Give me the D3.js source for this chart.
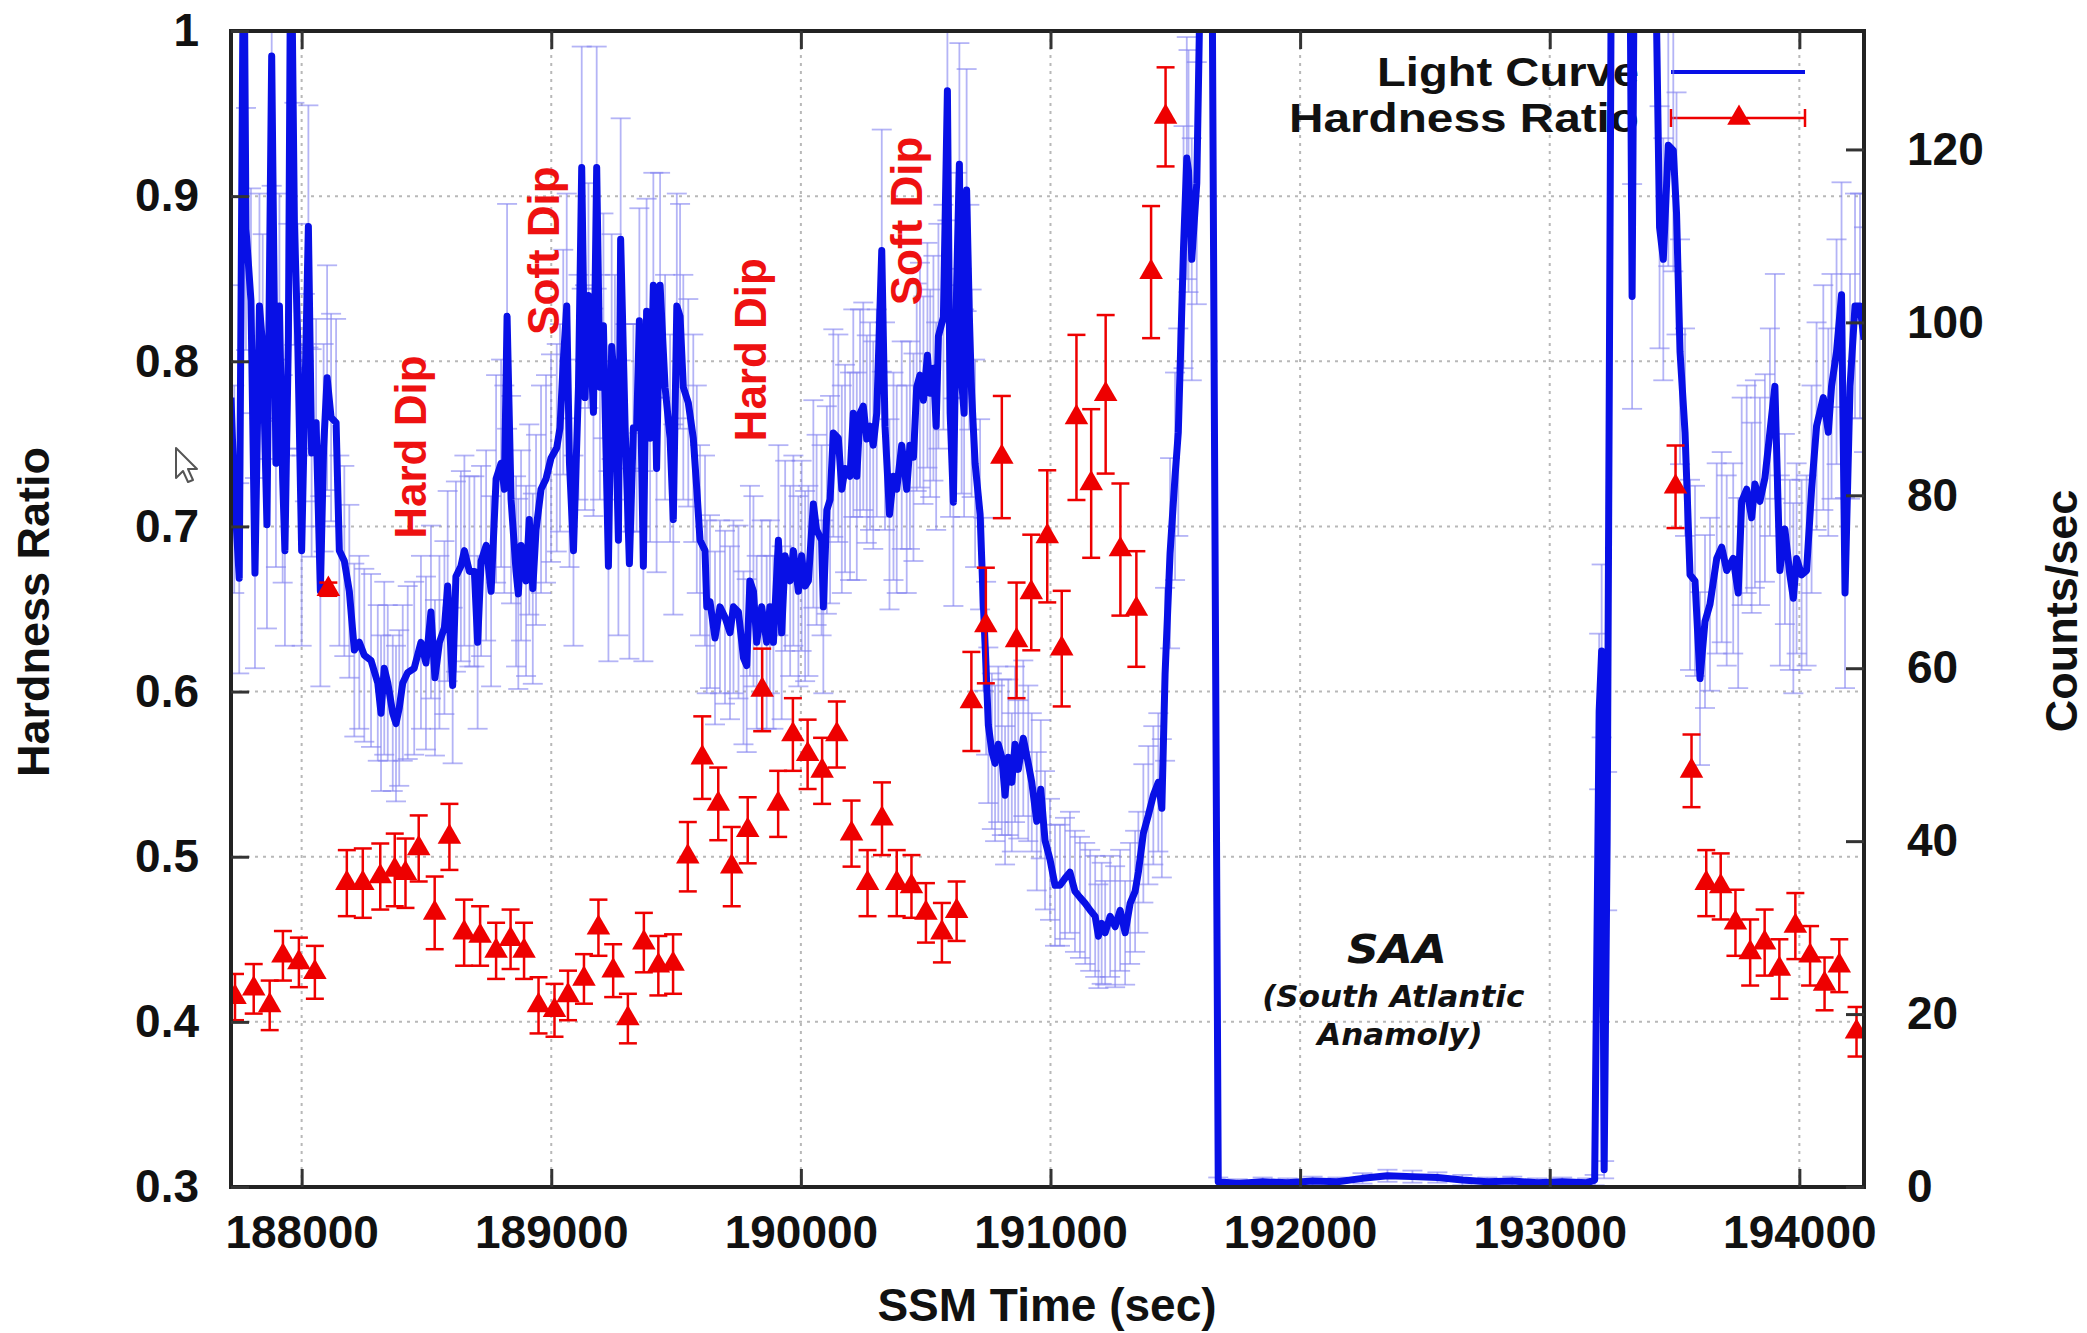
<!DOCTYPE html>
<html lang="en">
<head>
<meta charset="utf-8">
<title>SSM Light Curve and Hardness Ratio</title>
<script src="https://cdn.jsdelivr.net/npm/d3@7"></script>
<style>
  body { margin: 0; background: #fff; }
</style>
</head>
<body>
<script>

// Light curve (counts/sec) before the SAA passage: [SSM time, rate, error]
var lcBefore = [
  [187717, 91.3, 13], [187730, 80.7, 12], [187750, 70.4, 11], [187768, 150, 15], [187777, 110.8, 14],
  [187797, 102.5, 13], [187813, 71.0, 11], [187831, 101.9, 13], [187844, 97.2, 13], [187861, 76.6, 12],
  [187880, 130.8, 15], [187897, 83.7, 12], [187911, 101.9, 13], [187924, 81.9, 12], [187933, 73.6, 11],
  [187947, 98.4, 13], [187957, 150, 15], [187971, 111.4, 14], [187984, 98.4, 13], [188000, 73.6, 11],
  [188013, 91.3, 12], [188027, 111.1, 14], [188040, 84.9, 12], [188058, 88.4, 12], [188075, 68.9, 11],
  [188088, 85.5, 12], [188102, 93.6, 13], [188118, 89.0, 12], [188138, 88.4, 12], [188151, 73.6, 11],
  [188171, 72.4, 11], [188191, 68.9, 10], [188211, 62.1, 10], [188231, 63.0, 10], [188251, 61.5, 10],
  [188278, 60.9, 10], [188305, 58.3, 9], [188318, 54.8, 9], [188331, 60.0, 10], [188345, 58.3, 9],
  [188365, 54.8, 9], [188378, 53.6, 9], [188391, 55.4, 9], [188405, 58.3, 9], [188425, 59.5, 10],
  [188451, 60.0, 10], [188478, 63.0, 10], [188498, 60.6, 10], [188518, 66.5, 10], [188534, 58.9, 9],
  [188552, 63.0, 10], [188572, 64.7, 10], [188585, 69.5, 11], [188605, 58.0, 9], [188618, 70.6, 11],
  [188638, 71.8, 11], [188652, 73.6, 11], [188672, 71.2, 11], [188692, 71.2, 11], [188705, 63.0, 10],
  [188719, 72.4, 11], [188739, 74.2, 11], [188759, 68.9, 11], [188779, 81.9, 12], [188799, 83.7, 12],
  [188812, 80.7, 12], [188823, 100.7, 13], [188839, 79.5, 12], [188859, 71.2, 11], [188868, 68.6, 11],
  [188879, 74.2, 11], [188899, 70.1, 11], [188912, 77.2, 11], [188926, 69.2, 11], [188939, 76.0, 11],
  [188959, 80.7, 12], [188979, 81.9, 12], [188999, 84.3, 12], [189022, 85.5, 12], [189035, 87.8, 12],
  [189048, 95.4, 13], [189062, 101.9, 13], [189073, 83.7, 12], [189089, 73.6, 11], [189109, 92.5, 13],
  [189122, 117.9, 14], [189135, 91.3, 13], [189149, 103.1, 13], [189169, 89.6, 12], [189182, 117.9, 14],
  [189195, 92.5, 13], [189209, 99.6, 13], [189229, 71.8, 11], [189242, 97.2, 13], [189255, 92.5, 13],
  [189269, 74.8, 11], [189278, 109.6, 14], [189296, 87.8, 12], [189313, 72.1, 11], [189329, 87.8, 12],
  [189342, 87.8, 12], [189353, 100.2, 13], [189369, 71.8, 11], [189382, 101.3, 13], [189396, 86.6, 12],
  [189409, 104.3, 13], [189422, 83.1, 12], [189436, 104.3, 13], [189456, 92.5, 13], [189476, 86.6, 12],
  [189489, 77.2, 11], [189503, 101.9, 13], [189516, 100.7, 13], [189529, 92.5, 13], [189549, 90.7, 12],
  [189569, 86.6, 12], [189583, 80.7, 12], [189596, 74.8, 11], [189616, 73.6, 11], [189623, 67.1, 10],
  [189636, 67.7, 10], [189656, 63.5, 10], [189676, 67.1, 10], [189696, 65.9, 10], [189716, 64.1, 10],
  [189730, 67.1, 10], [189750, 66.5, 10], [189770, 61.2, 10], [189783, 60.3, 10], [189796, 70.1, 11],
  [189810, 68.9, 11], [189823, 63.0, 10], [189843, 67.1, 10], [189863, 63.0, 10], [189876, 67.1, 10],
  [189890, 63.0, 10], [189910, 74.8, 11], [189923, 64.1, 10], [189937, 73.0, 11], [189957, 70.1, 11],
  [189970, 73.6, 11], [189990, 68.9, 11], [190003, 73.0, 11], [190017, 69.5, 11], [190030, 70.1, 11],
  [190050, 79.0, 12], [190063, 76.0, 11], [190083, 74.8, 11], [190090, 67.1, 10], [190104, 78.3, 12],
  [190117, 79.5, 12], [190130, 87.2, 12], [190150, 86.6, 12], [190164, 80.7, 12], [190177, 83.1, 12],
  [190197, 82.2, 12], [190210, 89.5, 12], [190224, 82.2, 12], [190237, 89.5, 12], [190250, 90.3, 12],
  [190264, 86.5, 12], [190277, 88.0, 12], [190290, 85.8, 12], [190304, 89.5, 12], [190324, 108.3, 14],
  [190337, 88.0, 12], [190355, 77.8, 11], [190371, 82.2, 12], [190384, 80.7, 12], [190404, 85.8, 12],
  [190424, 80.7, 12], [190437, 85.8, 12], [190451, 84.4, 12], [190464, 92.5, 12], [190477, 93.9, 13],
  [190491, 91.0, 12], [190507, 96.2, 13], [190518, 91.8, 12], [190531, 94.7, 13], [190542, 88.0, 12],
  [190551, 98.4, 13], [190571, 100.6, 13], [190587, 126.8, 15], [190598, 89.5, 12], [190611, 79.2, 12],
  [190624, 104.3, 13], [190635, 118.3, 14], [190644, 93.2, 13], [190654, 89.5, 12], [190664, 115.3, 14],
  [190675, 100.6, 13], [190684, 91.8, 12], [190698, 83.7, 12], [190718, 77.8, 11], [190731, 67.4, 10],
  [190742, 60.0, 10], [190751, 53.4, 9], [190765, 50.4, 9], [190778, 49.0, 9], [190791, 51.2, 9],
  [190805, 49.7, 9], [190818, 45.3, 8], [190831, 49.7, 9], [190845, 46.8, 8], [190858, 51.2, 9],
  [190871, 48.3, 8], [190891, 51.9, 9], [190911, 49.0, 9], [190925, 46.8, 8], [190945, 42.3, 8],
  [190961, 46.0, 8], [190978, 40.1, 8], [190998, 37.9, 7], [191018, 34.9, 7], [191038, 34.9, 7],
  [191058, 35.7, 7], [191078, 36.4, 7], [191098, 34.2, 7], [191118, 33.5, 7], [191139, 32.8, 7],
  [191159, 32.0, 7], [191179, 31.3, 7], [191192, 29.0, 6], [191205, 30.5, 7], [191219, 29.4, 6],
  [191239, 31.3, 7], [191259, 30.1, 7], [191279, 32.0, 7], [191299, 29.4, 6], [191319, 32.8, 7],
  [191339, 34.2, 7], [191352, 36.4, 7], [191372, 40.9, 8], [191392, 43.0, 8], [191412, 45.3, 8],
  [191432, 46.8, 8], [191446, 43.8, 8], [191459, 59.3, 10], [191479, 73.3, 11], [191499, 82.2, 12],
  [191512, 87.3, 12], [191533, 108.7, 14], [191546, 119.0, 14], [191553, 117.5, 14], [191566, 107.3, 14],
  [191586, 116.1, 14], [191606, 150, 15], [191646, 150, 15]
];

// Light curve during the South Atlantic Anomaly passage
var lcSAA = [
  [191672, 0.6, 0.5], [191750, 0.4, 0.5], [191850, 0.6, 0.5], [191950, 0.5, 0.5], [192050, 0.7, 0.5],
  [192150, 0.6, 0.5], [192250, 1.0, 0.6], [192350, 1.3, 0.7], [192450, 1.2, 0.7], [192550, 1.1, 0.6],
  [192650, 0.8, 0.6], [192750, 0.6, 0.5], [192850, 0.7, 0.5], [192950, 0.5, 0.5], [193050, 0.6, 0.5],
  [193150, 0.5, 0.5], [193180, 0.8, 0.6]
];

// Light curve after the SAA passage
var lcAfter = [
  [193198, 55, 9], [193208, 62, 10], [193218, 2, 1], [193230, 40, 8], [193248, 150, 15],
  [193320, 150, 15], [193330, 103, 13], [193340, 150, 15], [193420, 150, 15], [193440, 111, 14],
  [193455, 107.3, 14], [193475, 120.5, 14], [193495, 119.9, 14], [193508, 112.6, 14], [193522, 96.6, 13],
  [193542, 87.3, 12], [193562, 70.8, 11], [193582, 70.1, 11], [193602, 58.8, 10], [193622, 65.4, 10],
  [193642, 67.4, 10], [193669, 72.7, 11], [193689, 74.0, 11], [193709, 71.3, 11], [193735, 72.7, 11],
  [193755, 68.7, 11], [193769, 79.3, 12], [193789, 80.7, 12], [193809, 77.4, 11], [193822, 81.3, 12],
  [193842, 79.3, 12], [193862, 82.0, 12], [193882, 87.3, 12], [193902, 92.6, 13], [193922, 71.3, 11],
  [193942, 76.1, 11], [193962, 70.8, 11], [193976, 68.1, 11], [193989, 72.7, 11], [194009, 70.8, 11],
  [194029, 71.3, 11], [194049, 80.7, 12], [194069, 88.0, 12], [194096, 91.3, 13], [194116, 87.3, 12],
  [194129, 92.6, 13], [194149, 96.6, 13], [194169, 103.2, 13], [194183, 68.7, 11], [194203, 92.6, 13],
  [194223, 101.9, 13], [194243, 101.9, 13], [194259, 98.0, 13]
];

// Hardness ratio points
var hrTime = [
  187733, 187808, 187872, 187925, 187989, 188053, 188107, 188181, 188245, 188315,
  188373, 188416, 188469, 188533, 188592, 188651, 188715, 188779, 188837, 188891,
  188949, 189013, 189067, 189131, 189189, 189248, 189307, 189371, 189429, 189488,
  189547, 189605, 189669, 189723, 189787, 189845, 189909, 189968, 190027, 190085,
  190144, 190203, 190267, 190325, 190384, 190443, 190501, 190565, 190624, 190683,
  190741, 190805, 190864, 190923, 190987, 191045, 191104, 191163, 191221, 191280,
  191344, 191403, 191461,
  193504, 193568, 193627, 193685, 193744, 193803, 193861, 193920, 193984, 194043,
  194101, 194160, 194229
];
var hrValue = [
  0.415, 0.420, 0.410, 0.440, 0.436, 0.430, 0.662, 0.484, 0.484, 0.488,
  0.492, 0.490, 0.505, 0.466, 0.512, 0.454, 0.452, 0.443, 0.450, 0.443,
  0.410, 0.407, 0.416, 0.426, 0.457, 0.431, 0.402, 0.448, 0.434, 0.435,
  0.500, 0.560, 0.532, 0.494, 0.516, 0.601, 0.532, 0.574, 0.562, 0.552,
  0.574, 0.514, 0.484, 0.523, 0.484, 0.482, 0.466, 0.454, 0.467, 0.594,
  0.640, 0.742, 0.631, 0.660, 0.694, 0.626, 0.766, 0.726, 0.780, 0.686,
  0.650, 0.854, 0.948,
  0.724, 0.552, 0.484, 0.482, 0.460, 0.442, 0.448, 0.432, 0.458, 0.440,
  0.423, 0.434, 0.394
];
var hrErr = [
  0.014, 0.015, 0.015, 0.015, 0.015, 0.016, 0.004, 0.020, 0.021, 0.020,
  0.022, 0.021, 0.020, 0.022, 0.020, 0.020, 0.018, 0.017, 0.018, 0.017,
  0.017, 0.016, 0.015, 0.015, 0.017, 0.016, 0.015, 0.018, 0.018, 0.018,
  0.021, 0.025, 0.022, 0.024, 0.020, 0.025, 0.020, 0.022, 0.021, 0.020,
  0.020, 0.020, 0.020, 0.022, 0.020, 0.019, 0.018, 0.018, 0.018, 0.030,
  0.035, 0.037, 0.035, 0.035, 0.040, 0.035, 0.050, 0.045, 0.048, 0.040,
  0.035, 0.040, 0.030,
  0.025, 0.022, 0.020, 0.020, 0.020, 0.020, 0.020, 0.018, 0.020, 0.018,
  0.016, 0.016, 0.015
];

// Axis ticks
var xTicks = [188000, 189000, 190000, 191000, 192000, 193000, 194000];
var xTickLabels = ["188000", "189000", "190000", "191000", "192000", "193000", "194000"];
var hrTicks = [0.3, 0.4, 0.5, 0.6, 0.7, 0.8, 0.9, 1];
var hrTickLabels = ["0.3", "0.4", "0.5", "0.6", "0.7", "0.8", "0.9", "1"];
var rateTicks = [0, 20, 40, 60, 80, 100, 120];
var rateTickLabels = ["0", "20", "40", "60", "80", "100", "120"];

// Canvas and plot frame
var w = 2087, h = 1333;
var plotL = 231, plotR = 1864, plotT = 31, plotB = 1187;
var font = "'Liberation Sans', Arial, Helvetica, sans-serif";
var blue = "#0810e6";
var red = "#ee0000";

var x = d3.scaleLinear().domain([187717, 194259]).range([plotL, plotR]);
var yHR = d3.scaleLinear().domain([0.3, 1]).range([plotB, plotT]);
var yRate = d3.scaleLinear().domain([0, 133.7]).range([plotB, plotT]);

var svg = d3.select("body").append("svg")
  .attr("width", w)
  .attr("height", h)
  .style("display", "block");

svg.append("rect").attr("width", w).attr("height", h).attr("fill", "#fff");

// Dotted grid
var grid = svg.append("g")
  .attr("stroke", "#b8b8b8")
  .attr("stroke-width", 2)
  .attr("stroke-dasharray", "3,5");
grid.selectAll("line.v").data(xTicks).join("line")
  .attr("class", "v")
  .attr("x1", d => x(d)).attr("x2", d => x(d))
  .attr("y1", plotT).attr("y2", plotB);
grid.selectAll("line.hz").data(hrTicks.slice(1, -1)).join("line")
  .attr("class", "hz")
  .attr("x1", plotL).attr("x2", plotR)
  .attr("y1", d => yHR(d)).attr("y2", d => yHR(d));

// Legend (drawn under the data, as in the original)
var legend = svg.append("g")
  .attr("font-family", font)
  .attr("font-weight", "bold")
  .attr("font-size", 41)
  .attr("fill", "#111");
legend.append("text").attr("x", 1639).attr("y", 72).attr("text-anchor", "end")
  .attr("dominant-baseline", "central")
  .attr("textLength", 262).attr("lengthAdjust", "spacingAndGlyphs")
  .text("Light Curve");
legend.append("text").attr("x", 1639).attr("y", 118).attr("text-anchor", "end")
  .attr("dominant-baseline", "central")
  .attr("textLength", 350).attr("lengthAdjust", "spacingAndGlyphs")
  .text("Hardness Ratio");
legend.append("line").attr("x1", 1671).attr("x2", 1805).attr("y1", 72).attr("y2", 72)
  .attr("stroke", blue).attr("stroke-width", 4);
legend.append("line").attr("x1", 1671).attr("x2", 1805).attr("y1", 118).attr("y2", 118)
  .attr("stroke", red).attr("stroke-width", 2.5);
legend.selectAll("line.cap").data([1671, 1805]).join("line")
  .attr("class", "cap")
  .attr("x1", d => d).attr("x2", d => d).attr("y1", 109).attr("y2", 127)
  .attr("stroke", red).attr("stroke-width", 2.5);
legend.append("path")
  .attr("d", d3.symbol(d3.symbolTriangle, 240)())
  .attr("transform", "translate(1739,118)")
  .attr("fill", red);

// Clip for data marks
svg.append("clipPath").attr("id", "plotclip")
  .append("rect").attr("x", plotL).attr("y", plotT)
  .attr("width", plotR - plotL).attr("height", plotB - plotT);

var dataG = svg.append("g").attr("clip-path", "url(#plotclip)");

var lightCurve = lcBefore.concat(lcSAA, lcAfter);

// Light curve error bars
var lcErrG = dataG.append("g")
  .attr("stroke", "#8282f0")
  .attr("stroke-opacity", 0.6)
  .attr("stroke-width", 1.8);
lcErrG.selectAll("line.bar").data(lightCurve).join("line")
  .attr("class", "bar")
  .attr("x1", d => x(d[0])).attr("x2", d => x(d[0]))
  .attr("y1", d => yRate(d[1] - d[2])).attr("y2", d => yRate(d[1] + d[2]));
lcErrG.selectAll("line.capT").data(lightCurve).join("line")
  .attr("class", "capT")
  .attr("x1", d => x(d[0]) - 10).attr("x2", d => x(d[0]) + 10)
  .attr("y1", d => yRate(d[1] + d[2])).attr("y2", d => yRate(d[1] + d[2]));
lcErrG.selectAll("line.capB").data(lightCurve).join("line")
  .attr("class", "capB")
  .attr("x1", d => x(d[0]) - 10).attr("x2", d => x(d[0]) + 10)
  .attr("y1", d => yRate(d[1] - d[2])).attr("y2", d => yRate(d[1] - d[2]));

// Light curve line
var line = d3.line()
  .x(d => x(d[0]))
  .y(d => yRate(d[1]));
dataG.append("path")
  .datum(lightCurve)
  .attr("d", line)
  .attr("fill", "none")
  .attr("stroke", blue)
  .attr("stroke-width", 7)
  .attr("stroke-linejoin", "round");

// Hardness ratio error bars and triangles
var hr = hrTime.map((t, i) => ({ t: t, v: hrValue[i], e: hrErr[i] }));
var hrG = dataG.append("g").attr("stroke", red).attr("stroke-width", 2.5);
hrG.selectAll("line.bar").data(hr).join("line")
  .attr("class", "bar")
  .attr("x1", d => x(d.t)).attr("x2", d => x(d.t))
  .attr("y1", d => yHR(d.v - d.e)).attr("y2", d => yHR(d.v + d.e));
hrG.selectAll("line.capT").data(hr).join("line")
  .attr("class", "capT")
  .attr("x1", d => x(d.t) - 9).attr("x2", d => x(d.t) + 9)
  .attr("y1", d => yHR(d.v + d.e)).attr("y2", d => yHR(d.v + d.e));
hrG.selectAll("line.capB").data(hr).join("line")
  .attr("class", "capB")
  .attr("x1", d => x(d.t) - 9).attr("x2", d => x(d.t) + 9)
  .attr("y1", d => yHR(d.v - d.e)).attr("y2", d => yHR(d.v - d.e));
dataG.selectAll("path.tri").data(hr).join("path")
  .attr("class", "tri")
  .attr("d", d3.symbol(d3.symbolTriangle, 240)())
  .attr("transform", d => "translate(" + x(d.t) + "," + yHR(d.v) + ")")
  .attr("fill", red);

// Dip annotations, placed in data units
var dipNotes = [
  { text: "Hard Dip", t: 188438, v: 0.748 },
  { text: "Soft Dip", t: 188967, v: 0.867 },
  { text: "Hard Dip", t: 189800, v: 0.807 },
  { text: "Soft Dip", t: 190425, v: 0.885 }
];
svg.append("g").selectAll("text").data(dipNotes).join("text")
  .attr("transform", d => "translate(" + x(d.t) + "," + yHR(d.v) + ") rotate(-90)")
  .attr("text-anchor", "middle")
  .attr("dominant-baseline", "central")
  .attr("font-family", font)
  .attr("font-weight", "bold")
  .attr("font-size", 44)
  .attr("fill", "#ee1111")
  .text(d => d.text);

// SAA annotation
var saa = svg.append("g")
  .attr("font-family", "'DejaVu Sans', sans-serif")
  .attr("font-weight", "bold")
  .attr("font-style", "italic")
  .attr("text-anchor", "middle")
  .attr("fill", "#111");
saa.append("text").attr("x", x(192388)).attr("y", 963).attr("font-size", 39)
  .attr("textLength", 100).attr("lengthAdjust", "spacingAndGlyphs").text("SAA");
saa.append("text").attr("x", x(192373)).attr("y", 1007).attr("font-size", 31).text("(South Atlantic");
saa.append("text").attr("x", x(192400)).attr("y", 1045).attr("font-size", 31).text("Anamoly)");

// Stray mouse pointer visible in the original screenshot
svg.append("path")
  .attr("d", "M0,0 L0,30 L7,23 L12,34 L17,32 L12,21 L21,21 Z")
  .attr("transform", "translate(176,448)")
  .attr("fill", "#fff")
  .attr("stroke", "#555")
  .attr("stroke-width", 2)
  .attr("stroke-linejoin", "round");

// Frame
svg.append("rect")
  .attr("x", plotL).attr("y", plotT)
  .attr("width", plotR - plotL).attr("height", plotB - plotT)
  .attr("fill", "none")
  .attr("stroke", "#222")
  .attr("stroke-width", 4);

// Axes with inward ticks
function styleAxis(g) {
  g.select(".domain").remove();
  g.attr("font-family", font).attr("font-size", 46).attr("font-weight", "bold");
  g.selectAll(".tick line").attr("stroke", "#333").attr("stroke-width", 3);
  g.selectAll(".tick text").attr("fill", "#111");
}

svg.append("g")
  .attr("transform", "translate(0," + plotB + ")")
  .call(d3.axisBottom(x).tickValues(xTicks)
    .tickFormat(d => xTickLabels[xTicks.indexOf(d)])
    .tickSizeInner(-18).tickSizeOuter(0).tickPadding(28))
  .call(styleAxis);

svg.append("g")
  .attr("transform", "translate(0," + plotT + ")")
  .call(d3.axisTop(x).tickValues(xTicks).tickFormat("")
    .tickSizeInner(-18).tickSizeOuter(0))
  .call(styleAxis);

svg.append("g")
  .attr("transform", "translate(" + plotL + ",0)")
  .call(d3.axisLeft(yHR).tickValues(hrTicks)
    .tickFormat(d => hrTickLabels[hrTicks.indexOf(d)])
    .tickSizeInner(-18).tickSizeOuter(0).tickPadding(32))
  .call(styleAxis);

svg.append("g")
  .attr("transform", "translate(" + plotR + ",0)")
  .call(d3.axisRight(yRate).tickValues(rateTicks)
    .tickFormat(d => rateTickLabels[rateTicks.indexOf(d)])
    .tickSizeInner(-18).tickSizeOuter(0).tickPadding(43))
  .call(styleAxis);

// Axis titles
var titles = svg.append("g")
  .attr("font-family", font)
  .attr("font-weight", "bold")
  .attr("font-size", 45)
  .attr("fill", "#111")
  .attr("text-anchor", "middle");
titles.append("text")
  .attr("transform", "translate(33,612) rotate(-90)")
  .attr("dominant-baseline", "central")
  .text("Hardness Ratio");
titles.append("text")
  .attr("transform", "translate(2061,611) rotate(-90)")
  .attr("dominant-baseline", "central")
  .text("Counts/sec");
titles.append("text")
  .attr("x", 1047).attr("y", 1321)
  .attr("font-size", 46)
  .text("SSM Time (sec)");

</script>
</body>
</html>
